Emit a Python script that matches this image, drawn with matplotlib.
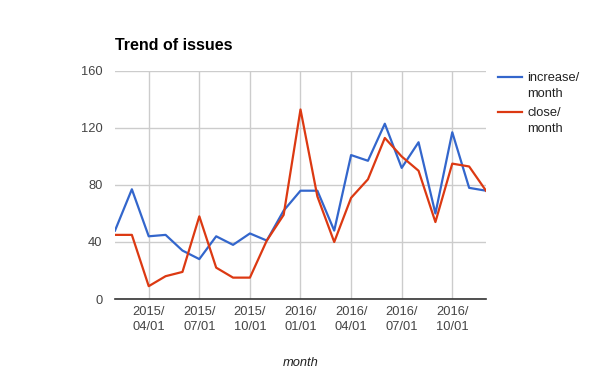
import matplotlib
matplotlib.use('Agg')
import matplotlib.pyplot as plt
from matplotlib.lines import Line2D

plt.rcParams['font.family'] = ['Liberation Sans', 'DejaVu Sans']

# monthly points, 2015/02 .. 2016/12
months = ['2015/02', '2015/03', '2015/04', '2015/05', '2015/06', '2015/07',
          '2015/08', '2015/09', '2015/10', '2015/11', '2015/12', '2016/01',
          '2016/02', '2016/03', '2016/04', '2016/05', '2016/06', '2016/07',
          '2016/08', '2016/09', '2016/10', '2016/11', '2016/12']
increase = [48, 77, 44, 45, 34, 28, 44, 38, 46, 41, 62, 76,
            76, 48, 101, 97, 123, 92, 110, 60, 117, 78, 76]
close = [45, 45, 9, 16, 19, 58, 22, 15, 15, 41, 59, 133,
         72, 40, 71, 84, 113, 100, 90, 54, 95, 93, 76]
tick_labels = ['2015/\n04/01', '2015/\n07/01', '2015/\n10/01', '2016/\n01/01',
               '2016/\n04/01', '2016/\n07/01', '2016/\n10/01']
tick_months = ['2015/04', '2015/07', '2015/10', '2016/01', '2016/04', '2016/07', '2016/10']
y_ticks = [0, 40, 80, 120, 160]
series = [('increase/\nmonth', increase, '#3366cc'),
          ('close/\nmonth', close, '#dc3912')]

x = list(range(len(months)))
tick_pos = [months.index(m) for m in tick_months]

W, H = 600, 371
fig = plt.figure(figsize=(6, 3.71), dpi=100)
ax = fig.add_axes([115/W, 1-299/H, (486-115)/W, (299-71)/H])

for label, vals, col in series:
    ax.plot(x, vals, color=col, lw=1.6, zorder=3)

ax.set_xlim(0, len(months) - 1)
ax.set_ylim(0, 160)
ax.set_yticks(y_ticks)
ax.set_xticks(tick_pos)
ax.set_xticklabels(tick_labels, linespacing=1.35)
ax.grid(True, color='#cccccc', lw=1)
ax.set_axisbelow(True)
for s in ['left', 'right', 'top']:
    ax.spines[s].set_visible(False)
ax.spines['bottom'].set_color('#333333')
ax.spines['bottom'].set_linewidth(1.2)
ax.spines['bottom'].set_zorder(4)
ax.tick_params(length=0, colors='#444444', labelsize=9.3)
ax.tick_params(axis='y', pad=9)
ax.tick_params(axis='x', pad=5)

ax.set_xlabel('month', style='italic', fontsize=9.3, color='#222222', labelpad=17)

fig.text(115/W, 1-50/H, 'Trend of issues', fontsize=11.5, fontweight='bold',
         color='#000000', ha='left', va='baseline')

# legend, Google Charts style: handle level with first text line
for i, (label, vals, col) in enumerate(series):
    ly = 77 + i * 35
    fig.add_artist(Line2D([498/W, 522/W], [1-ly/H, 1-ly/H], color=col, lw=1.6))
    for j, part in enumerate(label.split('\n')):
        fig.text(527/W, 1-(ly + 4 + j*16)/H, part, fontsize=9.3, color='#222222',
                 ha='left', va='baseline')

fig.savefig('out.png', dpi=100)
